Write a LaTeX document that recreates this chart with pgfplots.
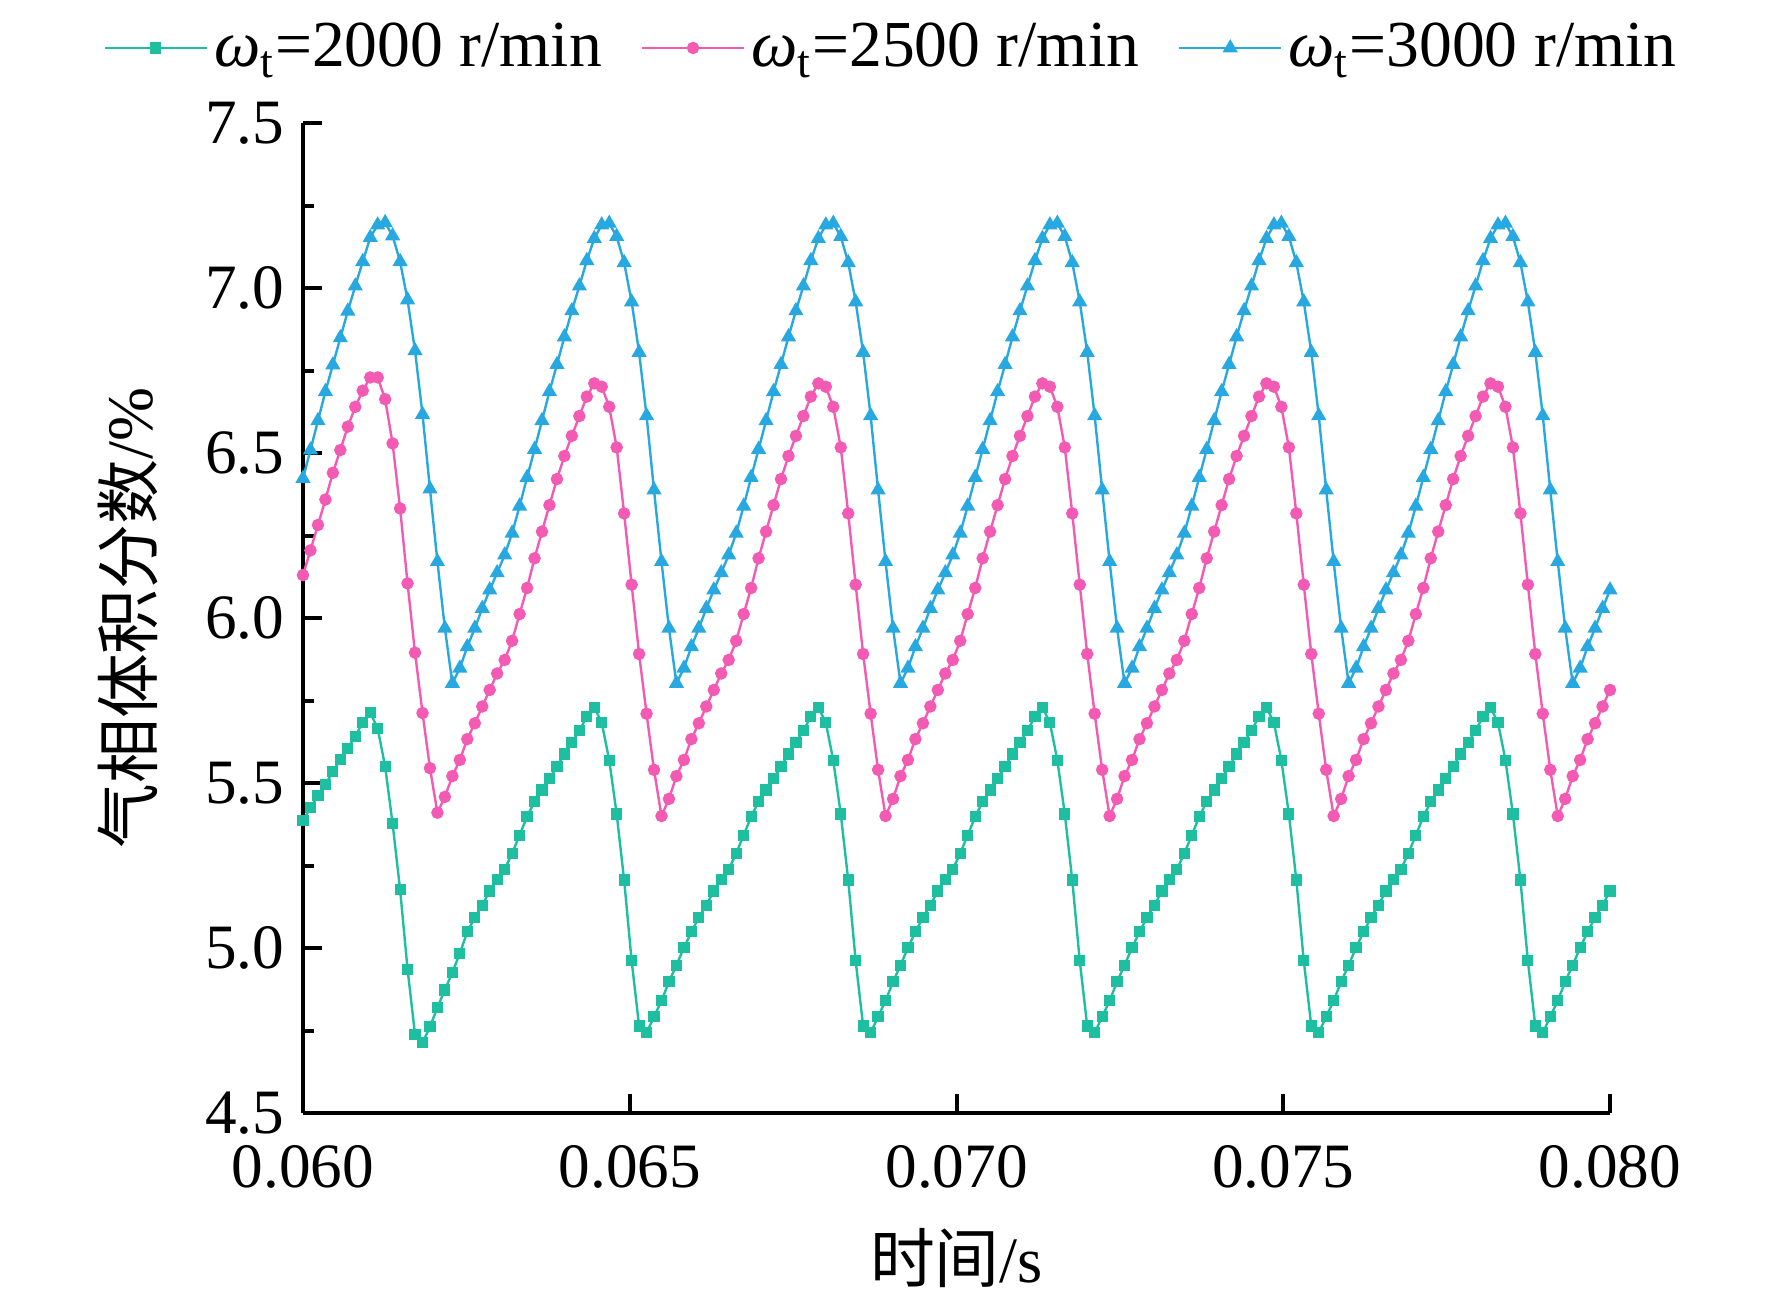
\documentclass[border=0pt]{standalone}
\usepackage{fontspec}
\setmainfont{Liberation Serif}
\newfontfamily\cjk{Noto Sans CJK SC}
\usepackage{pgfplots}
\pgfplotsset{compat=1.18}
\usepackage{pgfplotstable}
\definecolor{cg}{HTML}{1EBEA0}
\definecolor{cp}{HTML}{F25AB4}
\definecolor{cb}{HTML}{27A8E0}

\pgfplotstableread{
t g p b
0.060000 5.387 6.130 6.423
0.060114 5.425 6.205 6.509
0.060229 5.462 6.282 6.598
0.060343 5.496 6.359 6.686
0.060457 5.534 6.440 6.767
0.060571 5.571 6.509 6.849
0.060686 5.605 6.580 6.930
0.060800 5.642 6.640 7.006
0.060914 5.683 6.689 7.080
0.061029 5.714 6.729 7.153
0.061143 5.665 6.729 7.191
0.061257 5.550 6.663 7.198
0.061371 5.377 6.529 7.158
0.061486 5.177 6.332 7.080
0.061600 4.936 6.105 6.964
0.061714 4.738 5.895 6.810
0.061829 4.713 5.712 6.617
0.061943 4.761 5.545 6.391
0.062057 4.820 5.410 6.171
0.062171 4.873 5.458 5.969
0.062286 4.926 5.521 5.802
0.062400 4.984 5.570 5.848
0.062514 5.049 5.633 5.913
0.062629 5.092 5.681 5.969
0.062743 5.130 5.732 6.029
0.062857 5.173 5.782 6.085
0.062971 5.208 5.832 6.137
0.063086 5.238 5.873 6.191
0.063200 5.287 5.931 6.257
0.063314 5.342 6.012 6.339
0.063429 5.398 6.091 6.426
0.063543 5.443 6.181 6.511
0.063657 5.479 6.262 6.598
0.063771 5.514 6.342 6.686
0.063886 5.549 6.421 6.768
0.064000 5.588 6.491 6.852
0.064114 5.623 6.552 6.931
0.064229 5.659 6.612 7.006
0.064343 5.701 6.671 7.083
0.064457 5.729 6.711 7.150
0.064571 5.683 6.701 7.191
0.064686 5.569 6.640 7.196
0.064800 5.406 6.517 7.156
0.064914 5.206 6.317 7.077
0.065029 4.961 6.101 6.958
0.065143 4.764 5.891 6.805
0.065257 4.743 5.710 6.613
0.065371 4.792 5.540 6.388
0.065486 4.840 5.400 6.171
0.065600 4.898 5.452 5.969
0.065714 4.948 5.521 5.802
0.065829 5.001 5.570 5.848
0.065943 5.049 5.633 5.913
0.066057 5.092 5.681 5.969
0.066171 5.130 5.732 6.029
0.066286 5.173 5.782 6.085
0.066400 5.208 5.832 6.137
0.066514 5.238 5.873 6.191
0.066629 5.287 5.931 6.257
0.066743 5.342 6.012 6.339
0.066857 5.398 6.091 6.426
0.066971 5.443 6.181 6.511
0.067086 5.479 6.262 6.598
0.067200 5.514 6.342 6.686
0.067314 5.549 6.421 6.768
0.067429 5.588 6.491 6.852
0.067543 5.623 6.552 6.931
0.067657 5.659 6.612 7.006
0.067771 5.701 6.671 7.083
0.067886 5.729 6.711 7.150
0.068000 5.683 6.701 7.191
0.068114 5.569 6.640 7.196
0.068229 5.406 6.517 7.156
0.068343 5.206 6.317 7.077
0.068457 4.961 6.101 6.958
0.068571 4.764 5.891 6.805
0.068686 4.743 5.710 6.613
0.068800 4.792 5.540 6.388
0.068914 4.840 5.400 6.171
0.069029 4.898 5.452 5.969
0.069143 4.948 5.521 5.802
0.069257 5.001 5.570 5.848
0.069371 5.049 5.633 5.913
0.069486 5.092 5.681 5.969
0.069600 5.130 5.732 6.029
0.069714 5.173 5.782 6.085
0.069829 5.208 5.832 6.137
0.069943 5.238 5.873 6.191
0.070057 5.287 5.931 6.257
0.070171 5.342 6.012 6.339
0.070286 5.398 6.091 6.426
0.070400 5.443 6.181 6.511
0.070514 5.479 6.262 6.598
0.070629 5.514 6.342 6.686
0.070743 5.549 6.421 6.768
0.070857 5.588 6.491 6.852
0.070971 5.623 6.552 6.931
0.071086 5.659 6.612 7.006
0.071200 5.701 6.671 7.083
0.071314 5.729 6.711 7.150
0.071429 5.683 6.701 7.191
0.071543 5.569 6.640 7.196
0.071657 5.406 6.517 7.156
0.071771 5.206 6.317 7.077
0.071886 4.961 6.101 6.958
0.072000 4.764 5.891 6.805
0.072114 4.743 5.710 6.613
0.072229 4.792 5.540 6.388
0.072343 4.840 5.400 6.171
0.072457 4.898 5.452 5.969
0.072571 4.948 5.521 5.802
0.072686 5.001 5.570 5.848
0.072800 5.049 5.633 5.913
0.072914 5.092 5.681 5.969
0.073029 5.130 5.732 6.029
0.073143 5.173 5.782 6.085
0.073257 5.208 5.832 6.137
0.073371 5.238 5.873 6.191
0.073486 5.287 5.931 6.257
0.073600 5.342 6.012 6.339
0.073714 5.398 6.091 6.426
0.073829 5.443 6.181 6.511
0.073943 5.479 6.262 6.598
0.074057 5.514 6.342 6.686
0.074171 5.549 6.421 6.768
0.074286 5.588 6.491 6.852
0.074400 5.623 6.552 6.931
0.074514 5.659 6.612 7.006
0.074629 5.701 6.671 7.083
0.074743 5.729 6.711 7.150
0.074857 5.683 6.701 7.191
0.074971 5.569 6.640 7.196
0.075086 5.406 6.517 7.156
0.075200 5.206 6.317 7.077
0.075314 4.961 6.101 6.958
0.075429 4.764 5.891 6.805
0.075543 4.743 5.710 6.613
0.075657 4.792 5.540 6.388
0.075771 4.840 5.400 6.171
0.075886 4.898 5.452 5.969
0.076000 4.948 5.521 5.802
0.076114 5.001 5.570 5.848
0.076229 5.049 5.633 5.913
0.076343 5.092 5.681 5.969
0.076457 5.130 5.732 6.029
0.076571 5.173 5.782 6.085
0.076686 5.208 5.832 6.137
0.076800 5.238 5.873 6.191
0.076914 5.287 5.931 6.257
0.077029 5.342 6.012 6.339
0.077143 5.398 6.091 6.426
0.077257 5.443 6.181 6.511
0.077371 5.479 6.262 6.598
0.077486 5.514 6.342 6.686
0.077600 5.549 6.421 6.768
0.077714 5.588 6.491 6.852
0.077829 5.623 6.552 6.931
0.077943 5.659 6.612 7.006
0.078057 5.701 6.671 7.083
0.078171 5.729 6.711 7.150
0.078286 5.683 6.701 7.191
0.078400 5.569 6.640 7.196
0.078514 5.406 6.517 7.156
0.078629 5.206 6.317 7.077
0.078743 4.961 6.101 6.958
0.078857 4.764 5.891 6.805
0.078971 4.743 5.710 6.613
0.079086 4.792 5.540 6.388
0.079200 4.840 5.400 6.171
0.079314 4.898 5.452 5.969
0.079429 4.948 5.521 5.802
0.079543 5.001 5.570 5.848
0.079657 5.049 5.633 5.913
0.079771 5.092 5.681 5.969
0.079886 5.130 5.732 6.029
0.080000 5.173 5.782 6.085
}\datatable

\begin{document}
\begin{tikzpicture}[font=\fontsize{15.8}{18}\selectfont]
\path[use as bounding box] (-75.75pt,-46.75pt) rectangle (367.25pt,278.25pt);
\begin{axis}[
  at={(0pt,0pt)}, anchor=south west,
  scale only axis, width=326.75pt, height=247.5pt,
  xmin=0.06, xmax=0.08, ymin=4.5, ymax=7.5,
  axis lines=left,
  axis line style={-, line width=1pt, black},
  clip=false,
  tick align=inside,
  xtick={0.06,0.065,0.07,0.075,0.08},
  xticklabels={0.060,0.065,0.070,0.075,0.080},
  ytick={4.5,5,5.5,6,6.5,7,7.5},
  yticklabels={4.5,5.0,5.5,6.0,6.5,7.0,7.5},
  minor ytick={4.75,5.25,5.75,6.25,6.75,7.25},
  major tick length=4.75pt, minor tick length=2.75pt,
  every tick/.style={black, line width=1pt},
  scaled x ticks=false,
  /pgf/number format/assume math mode=true,
  tick label style={font=\fontsize{15.8}{18}\selectfont},
  yticklabel style={xshift=-1.2pt},
  xticklabel style={yshift=-4.7pt},
  xlabel={{\cjk 时间}/s},
  ylabel={{\cjk 气相体积分数}/\%},
  label style={font=\fontsize{16.2}{18}\selectfont},
  xlabel style={at={(axis description cs:0.5,-0.1465)}, anchor=center},
  ylabel style={at={(axis description cs:-0.1339,0.5)}, anchor=center},
  legend columns=3,
  legend cell align=left,
  legend image code/.code={\draw[mark repeat=2,mark phase=2,#1] plot coordinates {(0pt,0pt) (12.75pt,0pt) (25.5pt,0pt)};},
  legend style={at={(axis description cs:0.4514,1.0758)}, anchor=center, draw=none, fill=none,
    column sep=0pt, /tikz/every even column/.append style={column sep=8.25pt},
    nodes={inner xsep=1.5pt, inner ysep=0pt},
    font=\fontsize{16.4}{18}\selectfont},
]
\addplot[color=cg, line width=0.6pt, mark=square*, mark size=1.1pt] table[x=t,y=g] {\datatable};
\addlegendentry{\textit{ω}\textsubscript{t}=2000 r/min}
\addplot[color=cp, line width=0.6pt, mark=*, mark size=1.25pt] table[x=t,y=p] {\datatable};
\addlegendentry{\textit{ω}\textsubscript{t}=2500 r/min}
\addplot[color=cb, line width=0.6pt, mark=triangle*, mark size=1.6pt] table[x=t,y=b] {\datatable};
\addlegendentry{\textit{ω}\textsubscript{t}=3000 r/min}
\end{axis}
\end{tikzpicture}
\end{document}
